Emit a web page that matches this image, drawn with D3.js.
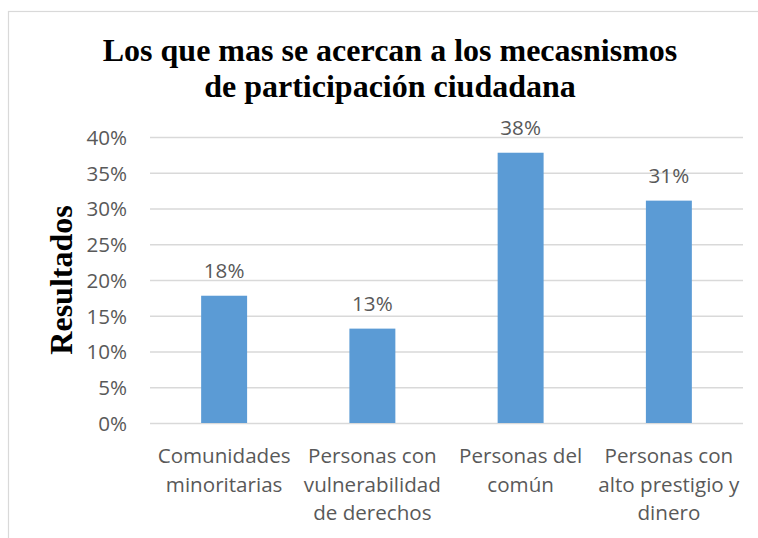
<!DOCTYPE html>
<html>
<head>
<meta charset="utf-8">
<script src="https://cdn.jsdelivr.net/npm/d3@7"></script>
<style>
  body { margin: 0; background: #fff; }
  svg { display: block; }
</style>
</head>
<body>
<svg width="758" height="538"></svg>
<script>
var categories = ["Comunidades minoritarias", "Personas con vulnerabilidad de derechos", "Personas del común", "Personas con alto prestigio y dinero"];
var categoryLines = [
  ["Comunidades", "minoritarias"],
  ["Personas con", "vulnerabilidad", "de derechos"],
  ["Personas del", "común"],
  ["Personas con", "alto prestigio y", "dinero"]
];
var values = [0.178, 0.132, 0.378, 0.311];
var yTicks = [0, 0.05, 0.10, 0.15, 0.20, 0.25, 0.30, 0.35, 0.40];
var titleLines = ["Los que mas se acercan a los mecasnismos", "de participación ciudadana"];
var yTitle = "Resultados";

var svg = d3.select("svg"),
    width = +svg.attr("width"),
    height = +svg.attr("height");

var margin = {top: 137, right: 15, bottom: 115, left: 150};

var gray = "#595959",
    grid = "#d9d9d9",
    sans = "'Open Sans', sans-serif",
    serif = "'Liberation Serif', 'Times New Roman', serif",
    fs = "20.6px";

// chart area border
svg.append("rect")
    .attr("x", 8.5)
    .attr("y", 11.5)
    .attr("width", width)
    .attr("height", height)
    .attr("fill", "none")
    .attr("stroke", grid)
    .attr("stroke-width", 1.2);

var x = d3.scaleBand()
    .domain(categories)
    .range([margin.left, width - margin.right])
    .paddingInner(0.69)
    .paddingOuter(0.345);

var y = d3.scaleLinear()
    .domain([0, 0.4])
    .range([height - margin.bottom, margin.top]);

var yAxis = d3.axisLeft(y)
    .tickValues(yTicks)
    .tickFormat(d3.format(".0%"))
    .tickSize(-(width - margin.right - margin.left))
    .tickPadding(23);

var gy = svg.append("g")
    .attr("transform", "translate(" + margin.left + ",0)")
    .call(yAxis);

gy.select(".domain").remove();
gy.selectAll(".tick line")
    .attr("stroke", grid)
    .attr("stroke-width", 1.3);
gy.selectAll(".tick text")
    .attr("fill", gray)
    .attr("dy", "0.36em")
    .style("font-family", sans)
    .style("font-size", fs);

// bars
svg.selectAll(".bar")
    .data(values)
  .enter().append("rect")
    .attr("class", "bar")
    .attr("x", function(d, i) { return x(categories[i]); })
    .attr("y", function(d) { return y(d); })
    .attr("width", x.bandwidth())
    .attr("height", function(d) { return y(0) - y(d); })
    .attr("fill", "#5b9bd5");

// value labels
svg.selectAll(".val")
    .data(values)
  .enter().append("text")
    .attr("class", "val")
    .attr("x", function(d, i) { return x(categories[i]) + x.bandwidth() / 2; })
    .attr("y", function(d) { return y(d) - 18; })
    .attr("text-anchor", "middle")
    .attr("fill", gray)
    .style("font-family", sans)
    .style("font-size", fs)
    .text(function(d) { return Math.round(d * 100) + "%"; });

// category labels
var cat = svg.selectAll(".cat")
    .data(categoryLines)
  .enter().append("text")
    .attr("class", "cat")
    .attr("text-anchor", "middle")
    .attr("fill", gray)
    .style("font-family", sans)
    .style("font-size", fs);

cat.selectAll("tspan")
    .data(function(d, i) { return d.map(function(t) { return {t: t, i: i}; }); })
  .enter().append("tspan")
    .attr("x", function(d) { return x(categories[d.i]) + x.bandwidth() / 2; })
    .attr("y", function(d, j) { return y(0) + 40 + j * 28.5; })
    .text(function(d) { return d.t; });

// title
svg.append("text")
    .attr("text-anchor", "middle")
    .style("font-family", serif)
    .style("font-weight", "bold")
    .style("font-size", "32px")
    .attr("fill", "#000")
  .selectAll("tspan")
    .data(titleLines)
  .enter().append("tspan")
    .attr("x", 390)
    .attr("y", function(d, i) { return 61 + i * 36; })
    .text(function(d) { return d; });

// y axis title
svg.append("text")
    .attr("transform", "translate(72," + ((y(0) + y(0.4)) / 2) + ") rotate(-90)")
    .attr("text-anchor", "middle")
    .style("font-family", serif)
    .style("font-weight", "bold")
    .style("font-size", "32px")
    .attr("fill", "#000")
    .text(yTitle);
</script>
</body>
</html>
